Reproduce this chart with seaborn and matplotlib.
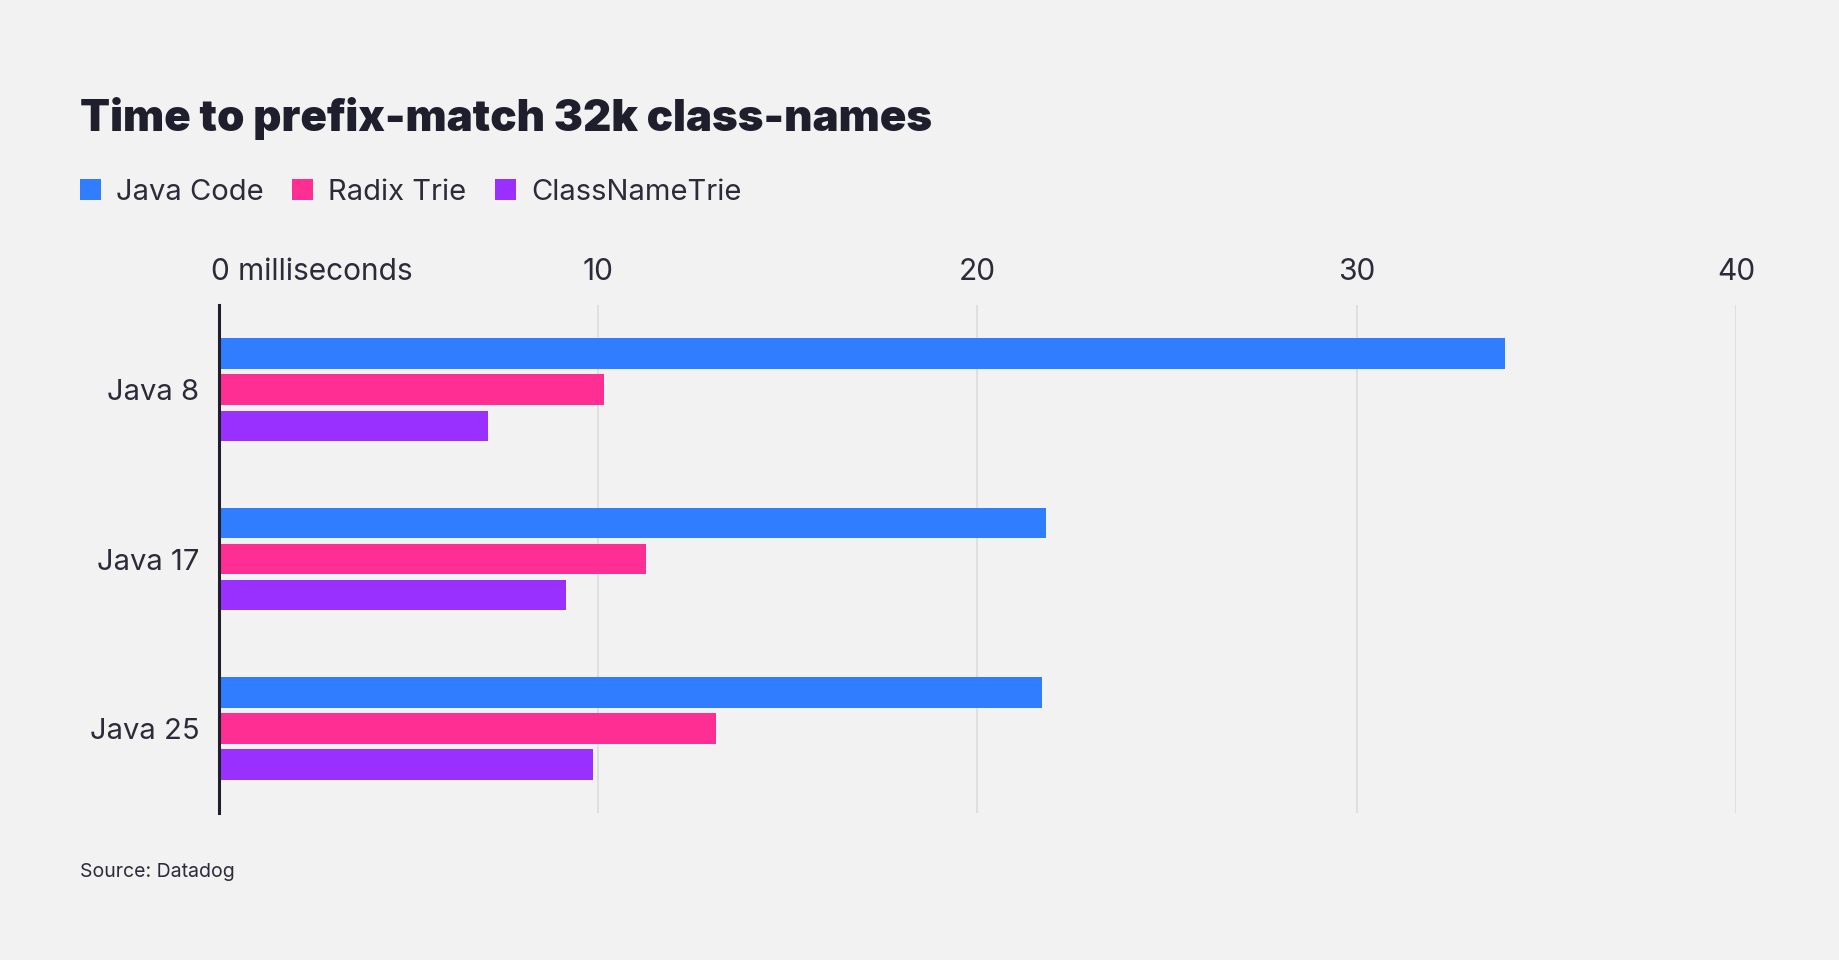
import matplotlib
matplotlib.use("Agg")
import matplotlib.pyplot as plt
import matplotlib.transforms as mtransforms
import pandas as pd
import seaborn as sns

# values (milliseconds)
versions = ["Java 8", "Java 17", "Java 25"]
methods = ["Java Code", "Radix Trie", "ClassNameTrie"]
java_code = [33.9, 21.8, 21.7]
radix_trie = [10.15, 11.25, 13.1]
classname_trie = [7.1, 9.15, 9.85]
x_ticks = [0, 10, 20, 30, 40]
x_tick_labels = ["0 milliseconds", "10", "20", "30", "40"]

colors = ["#307dff", "#ff2e93", "#9a30ff"]
bg = "#f2f2f2"
ink = "#1f1e2c"

df = pd.DataFrame({
    "version": versions * 3,
    "method": [m for m in methods for _ in versions],
    "ms": java_code + radix_trie + classname_trie,
})

sns.set_theme(style="white")
plt.rcParams["font.family"] = ["Inter", "DejaVu Sans"]

fig = plt.figure(figsize=(18.4, 9.6), dpi=100, facecolor=bg)
ax = fig.add_axes([0.119, 0.153, 0.8245, 0.5292], facecolor=bg)

sns.barplot(data=df, x="ms", y="version", hue="method", order=versions,
            hue_order=methods, palette=colors, orient="h", width=0.64,
            gap=0.155, saturation=1, linewidth=0, ax=ax)

ax.set_xlim(0, 40)
ax.set_ylim(2.5, -0.5)
ax.set_xlabel("")
ax.set_ylabel("")

ax.xaxis.tick_top()
ax.set_xticks(x_ticks)
ax.set_xticklabels(x_tick_labels)
ax.tick_params(axis="x", length=0, pad=14, labelsize=21.5, labelcolor="#2c2b3a")
ax.tick_params(axis="y", length=0, pad=14, labelsize=21, labelcolor="#2c2b3a")
first = ax.get_xticklabels()[0]
first.set_horizontalalignment("left")
first.set_transform(first.get_transform() +
                    mtransforms.ScaledTranslation(-6 / 72, 0, fig.dpi_scale_trans))

ax.grid(axis="x", color="#dcdcdc", linewidth=1.2)
ax.grid(axis="y", visible=False)
ax.set_axisbelow(True)
for side in ["top", "right", "bottom"]:
    ax.spines[side].set_visible(False)
ax.spines["left"].set_color(ink)
ax.spines["left"].set_linewidth(2.2)

handles, labels = ax.get_legend_handles_labels()
ax.legend_.remove()
fig.legend(handles, labels, loc="center left", bbox_to_anchor=(0.0435, 0.8),
           ncol=3, frameon=False, fontsize=21, handlelength=0.72,
           handleheight=0.72, handletextpad=0.5, columnspacing=1.0,
           labelcolor="#2c2b3a", borderaxespad=0, borderpad=0)

fig.text(0.0435, 0.877, "Time to prefix-match 32k class-names", fontsize=31.5,
         fontweight="black", color=ink, va="center", ha="left")
fig.text(0.0435, 0.092, "Source: Datadog", fontsize=14, color="#2c2b3a",
         va="center", ha="left")

fig.savefig("out.png", dpi=100, facecolor=bg)
